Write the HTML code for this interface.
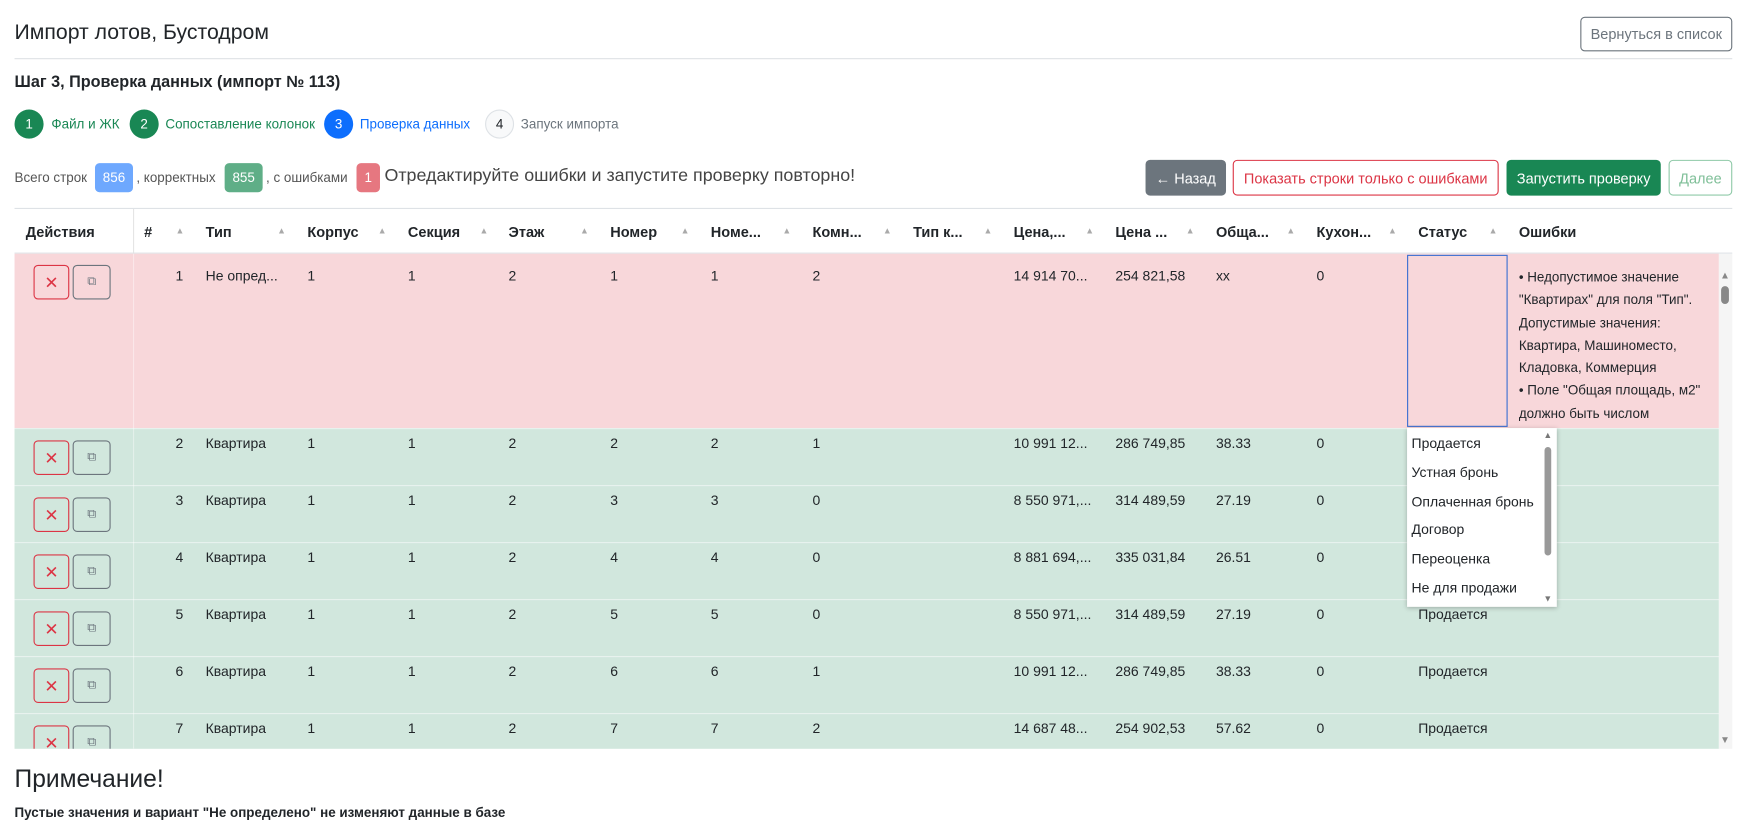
<!DOCTYPE html>
<html><head><meta charset="utf-8">
<style>
*{box-sizing:border-box;margin:0;padding:0}
html,body{width:1749px;height:810px;overflow:hidden;background:#fff}
#w{position:absolute;left:0;top:0;width:1565px;height:725px;transform:scale(1.1176);transform-origin:0 0;font-family:"Liberation Sans",sans-serif;color:#212529;font-size:13px}
.a{position:absolute;white-space:nowrap}
.btn{position:absolute;border-radius:4px;font-size:13px;display:flex;align-items:center;justify-content:center;border:1px solid}
.circ{position:absolute;width:26px;height:26px;border-radius:50%;top:98px;display:flex;align-items:center;justify-content:center;font-size:12px;color:#fff}
.st{position:absolute;top:104px;font-size:12px}
.badge{position:absolute;top:146px;height:26px;border-radius:4px;color:#fff;font-size:12px;display:flex;align-items:center;justify-content:center}
.hd{position:absolute;top:200px;font-weight:bold;font-size:13px}
.ar{position:absolute;top:202px;font-size:8px;color:#aaa}
.row{position:absolute;left:13px;width:1525px}
.c{position:absolute;font-size:12.5px}
.bx{position:absolute;width:32px;height:31px;border-radius:4px;border:1px solid #dc3545;color:#dc3545;display:flex;align-items:center;justify-content:center;font-size:15px}
.bc{position:absolute;width:34px;height:31px;border-radius:4px;border:1px solid #6c757d;color:#6c757d;display:flex;align-items:center;justify-content:center;font-size:11px}
.dd{position:absolute;left:1263px;font-size:12.5px}
</style></head><body><div id="w">
<div class="a" style="left:13px;top:19px;font-size:19px">Импорт лотов, Бустодром</div>
<div class="btn" style="left:1414px;top:15px;width:136px;height:31px;border-color:#6c757d;color:#6c757d">Вернуться в список</div>
<div class="a" style="left:13px;top:52px;width:1537px;height:1px;background:#dee2e6"></div>
<div class="a" style="left:13px;top:66px;font-size:14.5px;font-weight:bold">Шаг 3, Проверка данных (импорт № 113)</div>
<div class="circ" style="left:13px;background:#198754">1</div><div class="st" style="left:46px;color:#198754">Файл и ЖК</div>
<div class="circ" style="left:116px;background:#198754">2</div><div class="st" style="left:148px;color:#198754">Сопоставление колонок</div>
<div class="circ" style="left:290px;background:#0d6efd">3</div><div class="st" style="left:322px;color:#0d6efd">Проверка данных</div>
<div class="circ" style="left:434px;background:#f8f9fa;border:1px solid #dee2e6;color:#212529">4</div><div class="st" style="left:466px;color:#6c757d">Запуск импорта</div>
<div class="a" style="left:13px;top:152px;font-size:12px;color:#555">Всего строк</div>
<div class="badge" style="left:85px;width:34px;background:#6ea8fe">856</div>
<div class="a" style="left:122px;top:152px;font-size:12px;color:#555">, корректных</div>
<div class="badge" style="left:201px;width:34px;background:#5fae87">855</div>
<div class="a" style="left:238px;top:152px;font-size:12px;color:#555">, с ошибками</div>
<div class="badge" style="left:319px;width:21px;background:#e67780">1</div>
<div class="a" style="left:344px;top:149px;font-size:16px;color:#444">Отредактируйте ошибки и запустите проверку повторно!</div>
<div class="btn" style="left:1025px;top:143px;width:72px;height:32px;background:#6c757d;border-color:#6c757d;color:#fff">← Назад</div>
<div class="btn" style="left:1103px;top:143px;width:238px;height:32px;border-color:#dc3545;color:#dc3545">Показать строки только с ошибками</div>
<div class="btn" style="left:1348px;top:143px;width:138px;height:32px;background:#198754;border-color:#198754;color:#fff">Запустить проверку</div>
<div class="btn" style="left:1493px;top:143px;width:57px;height:32px;border-color:#8fc9a8;color:#7fbf98">Далее</div>
<div class="a" style="left:13px;top:186px;width:1537px;height:1px;background:#dee2e6"></div>
<div class="a" style="left:119px;top:187px;width:1px;height:483px;background:#e5e5e5"></div>
<div class="hd" style="left:23px">Действия</div>
<div class="hd" style="left:129px">#</div><div class="ar" style="left:157px">▲</div>
<div class="hd" style="left:184px">Тип</div><div class="ar" style="left:248px">▲</div>
<div class="hd" style="left:275px">Корпус</div><div class="ar" style="left:338px">▲</div>
<div class="hd" style="left:365px">Секция</div><div class="ar" style="left:429px">▲</div>
<div class="hd" style="left:455px">Этаж</div><div class="ar" style="left:519px">▲</div>
<div class="hd" style="left:546px">Номер</div><div class="ar" style="left:609px">▲</div>
<div class="hd" style="left:636px">Номе...</div><div class="ar" style="left:700px">▲</div>
<div class="hd" style="left:727px">Комн...</div><div class="ar" style="left:790px">▲</div>
<div class="hd" style="left:817px">Тип к...</div><div class="ar" style="left:880px">▲</div>
<div class="hd" style="left:907px">Цена,...</div><div class="ar" style="left:971px">▲</div>
<div class="hd" style="left:998px">Цена ...</div><div class="ar" style="left:1061px">▲</div>
<div class="hd" style="left:1088px">Обща...</div><div class="ar" style="left:1151px">▲</div>
<div class="hd" style="left:1178px">Кухон...</div><div class="ar" style="left:1242px">▲</div>
<div class="hd" style="left:1269px">Статус</div><div class="ar" style="left:1332px">▲</div>
<div class="hd" style="left:1359px">Ошибки</div>
<div class="a" style="left:13px;top:226px;width:1537px;height:1px;background:#dee2e6"></div>
<div class="row" style="top:227px;height:156px;background:#f8d7da"></div>
<div class="row" style="top:383px;height:287px;background:#d1e7dd"></div>
<div class="a" style="left:119px;top:227px;width:1px;height:443px;background:rgba(255,255,255,.4)"></div>
<div class="a" style="left:1259px;top:228px;width:90px;height:154px;border:1px solid #3b6fd1"></div>
<div class="a" style="left:1359px;top:238px;font-size:12px;line-height:20.3px;white-space:normal;width:165px">• Недопустимое значение "Квартирах" для поля "Тип". Допустимые значения: Квартира, Машиноместо, Кладовка, Коммерция<br>• Поле "Общая площадь, м2" должно быть числом</div>
<div class="a" style="left:1538px;top:227px;width:12px;height:443px;background:#f5f5f5"></div>
<div class="a" style="left:1539px;top:241px;font-size:9px;color:#888">▲</div>
<div class="a" style="left:1540px;top:256px;width:7px;height:16px;border-radius:4px;background:#888"></div>
<div class="a" style="left:1539px;top:657px;font-size:9px;color:#888">▼</div>
<div id="rows"></div>
<div class="a" style="left:1259px;top:383px;width:134px;height:160px;background:#fff;box-shadow:0 1px 4px rgba(0,0,0,.25)"></div>
<div class="dd" style="top:390px">Продается</div>
<div class="dd" style="top:416px">Устная бронь</div>
<div class="dd" style="top:442px">Оплаченная бронь</div>
<div class="dd" style="top:467px">Договор</div>
<div class="dd" style="top:493px">Переоценка</div>
<div class="dd" style="top:519px">Не для продажи</div>
<div class="a" style="left:1381px;top:385px;font-size:8px;color:#777">▲</div>
<div class="a" style="left:1382px;top:400px;width:6px;height:97px;border-radius:3px;background:#999"></div>
<div class="a" style="left:1381px;top:531px;font-size:8px;color:#777">▼</div>
<div class="a" style="left:13px;top:684px;font-size:22px">Примечание!</div>
<div class="a" style="left:13px;top:720px;font-size:12px;font-weight:bold">Пустые значения и вариант "Не определено" не изменяют данные в базе</div>
<script>
var d=[
[1,"Не опред...",1,1,2,1,1,2,"14 914 70...","254 821,58","xx",0,""],
[2,"Квартира",1,1,2,2,2,1,"10 991 12...","286 749,85","38.33",0,""],
[3,"Квартира",1,1,2,3,3,0,"8 550 971,...","314 489,59","27.19",0,""],
[4,"Квартира",1,1,2,4,4,0,"8 881 694,...","335 031,84","26.51",0,""],
[5,"Квартира",1,1,2,5,5,0,"8 550 971,...","314 489,59","27.19",0,"Продается"],
[6,"Квартира",1,1,2,6,6,1,"10 991 12...","286 749,85","38.33",0,"Продается"],
[7,"Квартира",1,1,2,7,7,2,"14 687 48...","254 902,53","57.62",0,"Продается"]];
var xs=[184,275,365,455,546,636,727,907,998,1088,1178,1269];
var h="";
for(var i=0;i<7;i++){
 var t=i==0?240:383+(i-1)*51+7;
 var r=d[i];
 if(i>0)h+='<div class="a" style="left:13px;top:'+(383+(i-1)*51)+'px;width:1525px;height:1px;background:rgba(255,255,255,.5)"></div>';
 var bt=i==0?237:t+4;
 h+='<div style="position:absolute;left:0;top:0;width:1565px;height:670px;overflow:hidden;pointer-events:none">';
 h+='<div class="bx" style="left:30px;top:'+bt+'px">✕</div><div class="bc" style="left:65px;top:'+bt+'px">⧉</div></div>';
 h+='<div class="c" style="left:150px;width:14px;text-align:right;top:'+t+'px">'+r[0]+'</div>';
 var vals=[r[1],r[2],r[3],r[4],r[5],r[6],r[7],r[8],r[9],r[10],r[11],r[12]];
 for(var j=0;j<12;j++) if(t<665) h+='<div class="c" style="left:'+xs[j]+'px;top:'+t+'px">'+vals[j]+'</div>';
}
document.getElementById('rows').outerHTML=h;
</script>
</div></body></html>
